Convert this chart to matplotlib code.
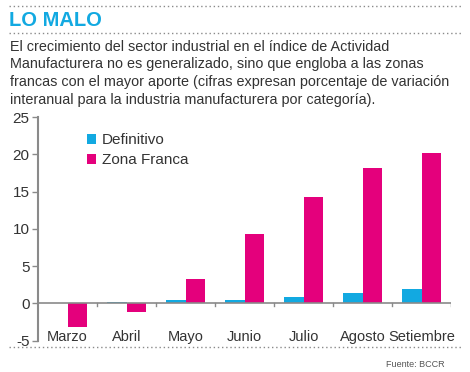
import matplotlib
matplotlib.use('Agg')
import matplotlib.pyplot as plt
from matplotlib.lines import Line2D
import numpy as np

months = ['Marzo', 'Abril', 'Mayo', 'Junio', 'Julio', 'Agosto', 'Setiembre']
definitivo = [0.1, 0.2, 0.45, 0.45, 0.85, 1.45, 1.95]
zona_franca = [-3.1, -1.2, 3.3, 9.3, 14.3, 18.2, 20.2]
yticks = [-5, 0, 5, 10, 15, 20, 25]

title = 'LO MALO'
subtitle = ('El crecimiento del sector industrial en el índice de Actividad\n'
            'Manufacturera no es generalizado, sino que engloba a las zonas\n'
            'francas con el mayor aporte (cifras expresan porcentaje de variación\n'
            'interanual para la industria manufacturera por categoría).')
source = 'Fuente: BCCR'

blue = '#12a9e1'
pink = '#e4007c'
gray = '#8a8a8a'
txt = '#333333'

plt.rcParams['font.family'] = ['Liberation Sans', 'DejaVu Sans']

fig = plt.figure(figsize=(4.7, 3.72), dpi=100)
ax = fig.add_axes([0.081, 0.084, 0.879, 0.601])

x = np.arange(len(months))
w = 0.335
ax.bar(x - w / 2, definitivo, w, color=blue, label='Definitivo', zorder=2)
ax.bar(x + w / 2, zona_franca, w, color=pink, label='Zona Franca', zorder=2)

ax.set_xlim(-0.5, len(months) - 0.5)
ax.set_ylim(-5, 25)
ax.set_yticks(yticks)
ax.set_yticklabels([str(v) for v in yticks], fontsize=11, color=txt)
ax.tick_params(axis='y', length=4, color=gray, width=1, pad=2)

# x axis drawn at zero, ticks between groups
ax.axhline(0, color=gray, lw=1.2, zorder=3)
ax.set_xticks([])
for b in np.arange(0.5, len(months), 1.0):
    ax.plot([b, b], [0, -0.35], color=gray, lw=1, zorder=3)
for i, m in enumerate(months):
    ax.text(i, -4.45, m, ha='center', va='center', fontsize=10.5, color=txt)

for s in ['top', 'right', 'bottom']:
    ax.spines[s].set_visible(False)
ax.spines['left'].set_color(gray)
ax.spines['left'].set_linewidth(1.5)

leg = ax.legend(loc='upper left', bbox_to_anchor=(0.085, 0.99), frameon=False,
                fontsize=11, handlelength=0.6, handleheight=0.6,
                handletextpad=0.4, labelspacing=0.4)
for t in leg.get_texts():
    t.set_color(txt)

# header
fig.add_artist(Line2D([0.02, 0.98], [0.984, 0.984], color=gray, lw=1, ls=(0, (1, 2))))
fig.text(0.02, 0.946, title, fontsize=14.5, fontweight='bold', color=blue,
         va='center', ha='left')
fig.add_artist(Line2D([0.02, 0.98], [0.911, 0.911], color=gray, lw=1, ls=(0, (1, 2))))
fig.text(0.021, 0.893, subtitle, fontsize=10.4, color=txt, va='top', ha='left',
         linespacing=1.33)

# footer
fig.add_artist(Line2D([0.02, 0.98], [0.067, 0.067], color=gray, lw=1, ls=(0, (1, 2))))
fig.text(0.947, 0.019, source, fontsize=6.5, color='#555555', ha='right', va='center')

fig.savefig('out.png', dpi=100)
